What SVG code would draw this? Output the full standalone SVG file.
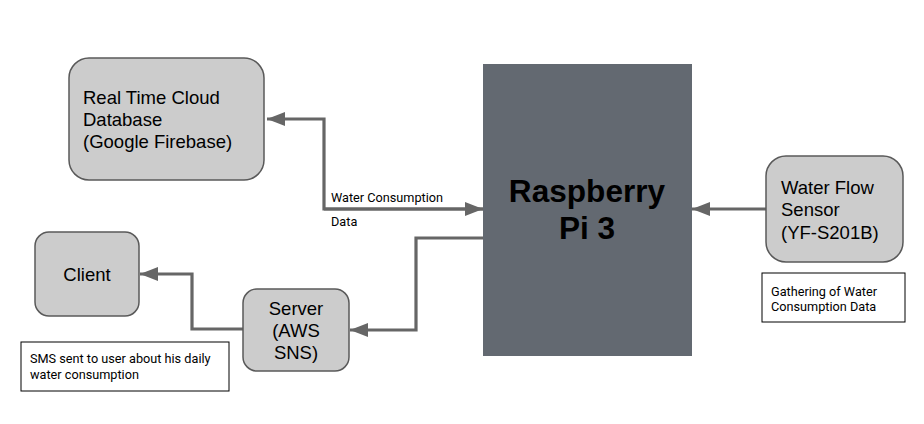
<svg xmlns="http://www.w3.org/2000/svg" width="924" height="424" viewBox="0 0 924 424">
<style>
.box{fill:#cccccc;stroke:#595959;stroke-width:1.5}
.note{fill:#ffffff;stroke:#000000;stroke-width:1}
.t{font-family:"Liberation Sans",Arial,sans-serif;font-size:18.5px;fill:#000}
.s{font-family:Roboto,"Liberation Sans",sans-serif;font-size:12.7px;fill:#000}
.pi{font-family:"Liberation Sans",Arial,sans-serif;font-size:31.6px;font-weight:bold;fill:#000}
.c{fill:none;stroke:#666666;stroke-width:3.2}
</style>
<defs>
<marker id="ah" markerUnits="userSpaceOnUse" markerWidth="20" markerHeight="16" refX="18" refY="7" orient="auto">
<path d="M0,0 L18,7 L0,14 Z" fill="#666666"/>
</marker>
</defs>
<rect width="924" height="424" fill="#ffffff"/>
<g id="connectors">
<path class="c" d="M483,209 H324 V119 H267" marker-end="url(#ah)"/>
<path class="c" d="M324,209 H483" marker-end="url(#ah)"/>
<path class="c" d="M483,238 H416 V330 H350" marker-end="url(#ah)"/>
<path class="c" d="M243,329 H192 V274 H140" marker-end="url(#ah)"/>
<path class="c" d="M766,209 H692" marker-end="url(#ah)"/>
<text class="s" x="331" y="202">Water Consumption</text>
<text class="s" x="331" y="226">Data</text>
</g>
<g id="firebase">
<rect class="box" x="69" y="58" width="195" height="122" rx="20"/>
<text class="t" x="83" y="104">Real Time Cloud</text>
<text class="t" x="83" y="126">Database</text>
<text class="t" x="83" y="148">(Google Firebase)</text>
</g>
<g id="raspberry">
<rect x="483" y="64" width="209" height="292" fill="#636971"/>
<text class="pi" x="587" y="202" text-anchor="middle">Raspberry</text>
<text class="pi" x="587" y="239" text-anchor="middle">Pi 3</text>
</g>
<g id="sensor">
<rect class="box" x="766" y="156" width="137" height="106" rx="20"/>
<text class="t" x="781" y="194">Water Flow</text>
<text class="t" x="781" y="216">Sensor</text>
<text class="t" x="781" y="239">(YF-S201B)</text>
</g>
<g id="gathering">
<rect class="note" x="762" y="273" width="143" height="49"/>
<text class="s" x="771" y="296">Gathering of Water</text>
<text class="s" x="771" y="311">Consumption Data</text>
</g>
<g id="client">
<rect class="box" x="35" y="232" width="104" height="84" rx="14"/>
<text class="t" x="87" y="281" text-anchor="middle">Client</text>
</g>
<g id="server">
<rect class="box" x="243" y="289" width="106" height="82" rx="14"/>
<text class="t" x="296" y="315" text-anchor="middle">Server</text>
<text class="t" x="296" y="337" text-anchor="middle">(AWS</text>
<text class="t" x="296" y="359" text-anchor="middle">SNS)</text>
</g>
<g id="sms">
<rect class="note" x="21" y="342" width="208" height="49"/>
<text class="s" x="30" y="363">SMS sent to user about his daily</text>
<text class="s" x="30" y="379">water consumption</text>
</g>
</svg>
